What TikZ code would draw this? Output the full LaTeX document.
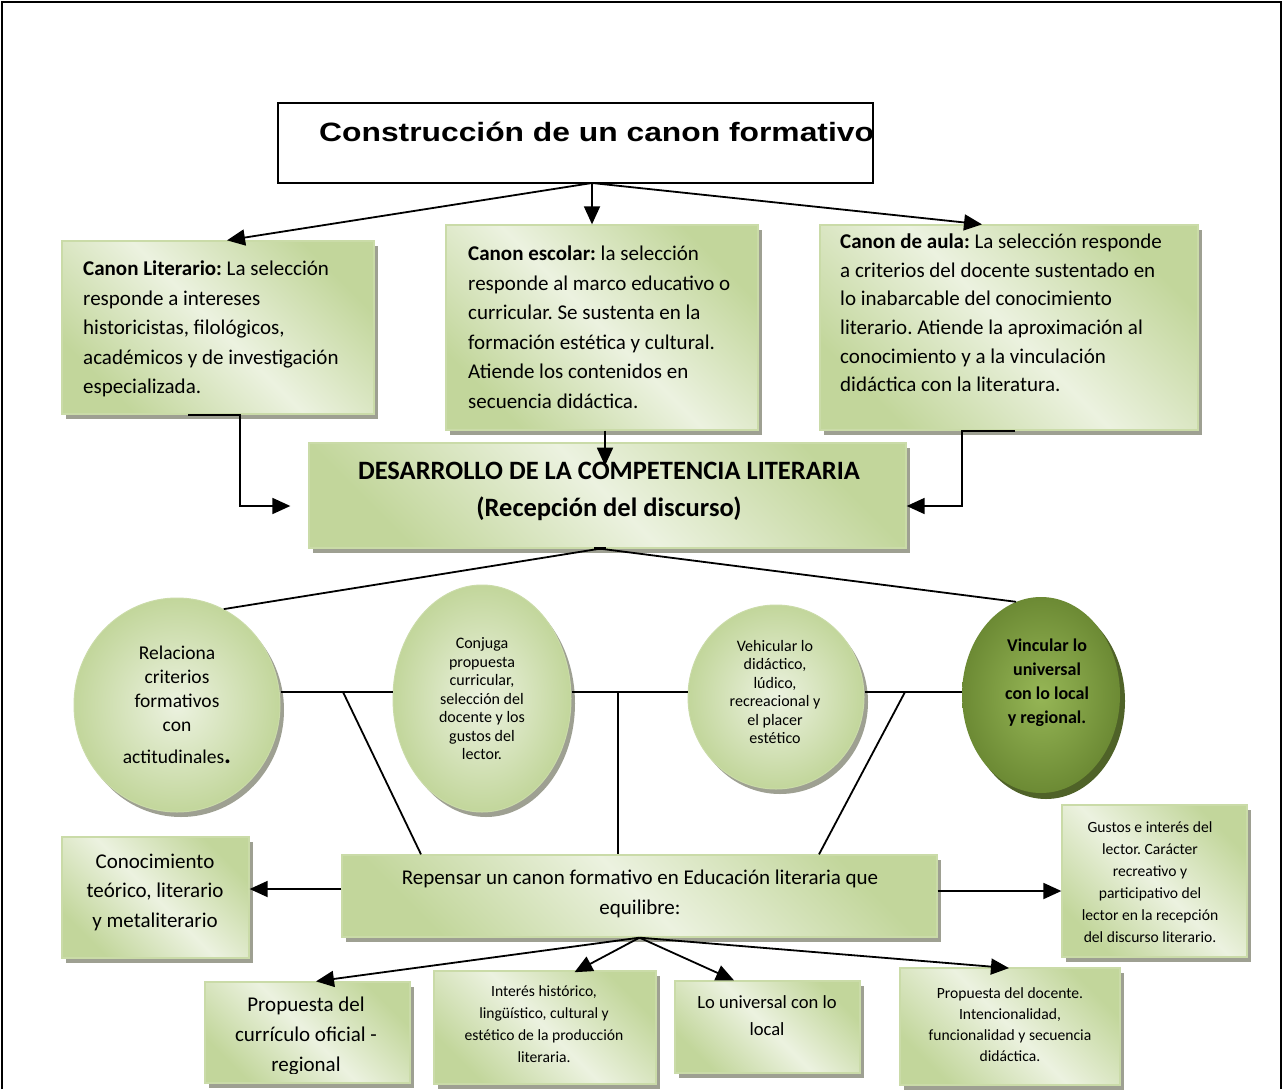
\documentclass[tikz,border=0pt]{standalone}
\usepackage{fontspec}
\setmainfont{Carlito}
\newfontfamily\titlefont[FakeStretch=1.2]{Liberation Sans}
\usetikzlibrary{arrows.meta,shapes.geometric,shadows}
\definecolor{gdark}{RGB}{194,214,155}
\definecolor{glight}{RGB}{236,242,224}
\definecolor{boxedge}{RGB}{202,219,168}
\definecolor{shadowc}{RGB}{158,160,146}
\definecolor{odark}{RGB}{108,138,52}
\definecolor{olight}{RGB}{150,182,86}
\definecolor{oshadow}{RGB}{79,98,40}
\frenchspacing
\begin{document}
\begin{tikzpicture}[x=1pt,y=-1pt,
  ln/.style={line width=1.8pt},
  arr/.style={line width=1.8pt,-{Triangle[length=18pt,width=16pt]}},
  titlebox/.style={draw=black,line width=1.4pt,fill=white,inner sep=0pt},
  gbox/.style={rectangle,draw=boxedge,line width=1.3pt,
    top color=gdark,bottom color=gdark,middle color=glight,shading angle=-45,
    drop shadow={shadow xshift=4pt,shadow yshift=-5pt,fill=shadowc,opacity=1},
    inner sep=0pt},
  lcirc/.style={ellipse,draw=boxedge,line width=1pt,inner color=glight,outer color=gdark,
    drop shadow={shadow xshift=4pt,shadow yshift=-5pt,fill=shadowc,opacity=1},
    inner sep=0pt},
  dcirc/.style={ellipse,draw=none,inner color=olight,outer color=odark,
    drop shadow={shadow xshift=5pt,shadow yshift=-6pt,fill=oshadow,opacity=1},
    inner sep=0pt},
  txA/.style={font=\fontsize{21}{29.5}\selectfont,inner sep=0pt},
  txL/.style={font=\fontsize{19.5}{24}\selectfont,align=center,inner sep=0pt},
  txS/.style={font=\fontsize{16}{18.5}\selectfont,align=center,inner sep=0pt},
  txB/.style={font=\fontsize{15.6}{22}\selectfont,align=center,inner sep=0pt}
]
\useasboundingbox (0,0) rectangle (1284,1089);
\fill[white] (0,0) rectangle (1284,1089);
% page frame
\draw[line width=1.5pt] (2,1089) -- (2,2) -- (1281,2) -- (1281,1089);

% title
\node[titlebox,minimum width=595pt,minimum height=80pt] (title) at (575.5,143) {};
\node[anchor=base west,inner sep=0pt] (titletext) at (319,142)
  {\titlefont\bfseries\fontsize{26.5}{30}\selectfont Construcción de un canon formativo};

% three canons
\node[gbox,minimum width=312pt,minimum height=173pt] (b1) at (218,327.5) {};
\node[txA,anchor=west,align=left] (b1t) at (83,329)
  {\textbf{Canon Literario:} La selección\\responde a intereses\\historicistas, filológicos,\\académicos y de investigación\\especializada.};
\node[gbox,minimum width=312pt,minimum height=205pt] (b2) at (602,327.5) {};
\node[txA,anchor=west,align=left] (b2t) at (468,327)
  {\textbf{Canon escolar:} la selección\\responde al marco educativo o\\curricular. Se sustenta en la\\formación estética y cultural.\\Atiende los contenidos en\\secuencia didáctica.};
\node[gbox,minimum width=378pt,minimum height=205pt] (b3) at (1009,327.5) {};
\node[txA,anchor=west,align=left,font=\fontsize{21}{28.6}\selectfont] (b3t) at (840,313)
  {\textbf{Canon de aula:} La selección responde\\a criterios del docente sustentado en\\lo inabarcable del conocimiento\\literario. Atiende la aproximación al\\conocimiento y a la vinculación\\didáctica con la literatura.};

\coordinate (tapex) at (592,183);
\draw[arr] (tapex) -- (b1.north -| 227,0);
\draw[arr] (tapex) -- (b2.north -| tapex);
\draw[arr] (tapex) -- (b3.north -| 982,0);

% central box
\node[gbox,minimum width=597pt,minimum height=105pt] (cbox) at (607.5,495.5) {};
\node[align=center,inner sep=0pt,font=\bfseries\fontsize{26.5}{37}\selectfont] (ctext) at (609,491)
  {DESARROLLO DE LA COMPETENCIA LITERARIA\\(Recepción del discurso)};

\draw[arr,shorten >=18pt] (b1.south -| 188,0) -- (b1.south -| 240,0) |- (cbox.west |- 0,506);
\draw[arr] (b3.south -| 1015,0) -- (b3.south -| 962,0) |- (cbox.east |- 0,506);
\draw[arr] (b2.south -| 605,0) -- ++(0,35);

% four ellipses
\node[lcirc,minimum width=206pt,minimum height=214pt] (c1) at (177,705) {};
\node[txL] (c1t) at (177,705)
  {Relaciona\\criterios\\formativos\\con\\[8pt]actitudinales{\fontsize{26}{24}\selectfont\textbf{.}}};
\node[lcirc,minimum width=178pt,minimum height=227pt] (c2) at (482,698.5) {};
\node[txS] (c2t) at (482,699)
  {Conjuga\\propuesta\\curricular,\\selección del\\docente y los\\gustos del\\lector.};
\node[lcirc,minimum width=176pt,minimum height=184pt] (c3) at (776,697) {};
\node[txS] (c3t) at (775,692)
  {Vehicular lo\\didáctico,\\lúdico,\\recreacional y\\el placer\\estético};
\node[dcirc,minimum width=158pt,minimum height=196pt] (c4) at (1041,695) {};
\node[align=center,inner sep=0pt,font=\bfseries\fontsize{18}{24}\selectfont] (c4t) at (1047,683)
  {Vincular lo\\universal\\con lo local\\y regional.};

\draw[ln] (cbox.south -| 600,0) -- (c1.64);
\draw[ln] (cbox.south -| 600,0) -- (c4.105);
\draw[line width=3pt] (cbox.south -| 594,0) -- (cbox.south -| 606,0);

\coordinate (hl) at (0,692);
\draw[ln] (c1.east |- hl) -- (c2.west |- hl);
\draw[ln] (c2.east |- hl) -- (c3.west |- hl);
\draw[ln] (c3.east |- hl) -- (c4.west |- hl);

% rethinking box
\node[gbox,minimum width=595pt,minimum height=82pt] (rep) at (639.5,896) {};
\node[align=center,inner sep=0pt,font=\fontsize{21}{30}\selectfont] (rept) at (640,894)
  {Repensar un canon formativo en Educación literaria que\\equilibre:};

\coordinate (j1) at (343,692);
\coordinate (j2) at (618,692);
\coordinate (j3) at (905,692);
\draw[ln] (j1) -- (rep.north -| 421,0);
\draw[ln] (j2) -- (rep.north -| j2);
\draw[ln] (j3) -- (rep.north -| 819,0);

% side boxes
\node[gbox,minimum width=187pt,minimum height=121pt] (kb) at (155.5,897.5) {};
\node[txA,align=center] (kbt) at (155,892)
  {Conocimiento\\teórico, literario\\y metaliterario};
\node[gbox,minimum width=185pt,minimum height=152pt] (gb) at (1154.5,881) {};
\node[txB] (gbt) at (1150,882)
  {Gustos e interés del\\lector. Carácter\\recreativo y\\participativo del\\lector en la recepción\\del discurso literario.};
\draw[arr] (rep.west |- 0,889) -- (kb.east |- 0,889);
\draw[arr] (rep.east |- 0,891) -- (gb.west |- 0,891);

% bottom row
\node[gbox,minimum width=205pt,minimum height=101pt] (pc) at (307.5,1032.5) {};
\begin{scope}
  \clip (200,982) rectangle (415,1073);
  \node[align=center,inner sep=0pt,font=\fontsize{21}{30}\selectfont] (pct) at (306,1036)
    {Propuesta del\\currículo oficial -\\regional};
\end{scope}
\node[gbox,minimum width=222pt,minimum height=113pt] (ih) at (545,1027.5) {};
\node[txB] (iht) at (544,1024)
  {Interés histórico,\\lingüístico, cultural y\\estético de la producción\\literaria.};
\node[gbox,minimum width=185pt,minimum height=92pt] (lu) at (767.5,1027) {};
\node[align=center,inner sep=0pt,font=\fontsize{18.6}{27}\selectfont] (lut) at (767,1016)
  {Lo universal con lo\\local};
\node[gbox,minimum width=220pt,minimum height=117pt] (pd) at (1010,1026.5) {};
\node[txB,font=\fontsize{15.6}{21}\selectfont] (pdt) at (1010,1025)
  {Propuesta del docente.\\Intencionalidad,\\funcionalidad y secuencia\\didáctica.};

\draw[arr] (rep.south) -- (pc.north -| 316,0);
\draw[arr,shorten >=-4pt] (rep.south) -- (ih.north -| 578,0);
\draw[arr] (rep.south) -- (lu.north -| 734,0);
\draw[arr,shorten >=-9pt] (rep.south) -- (pd.north -| 1000,0);
\end{tikzpicture}
\end{document}
